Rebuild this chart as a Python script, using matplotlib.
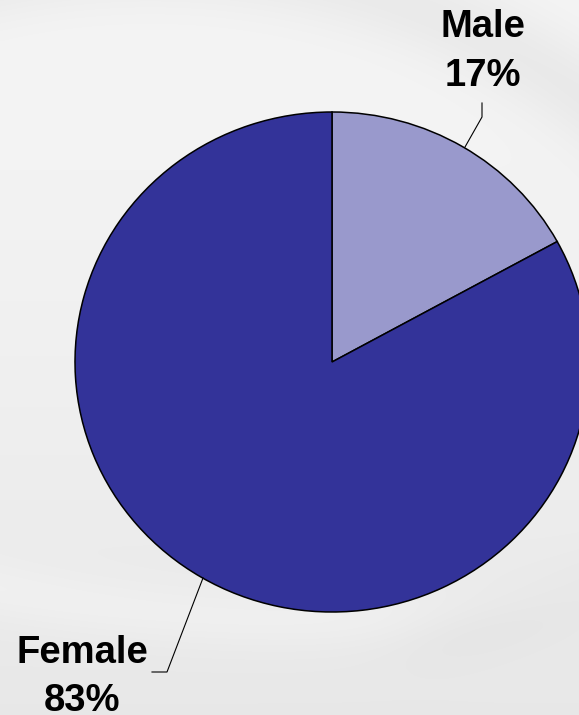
import numpy as np
import matplotlib.pyplot as plt
from matplotlib.patches import Wedge
from matplotlib.transforms import Affine2D

# -------------------------
# Data
# -------------------------
labels = ["Male", "Female"]
shares = [17, 83]
colors = ["#9999CC", "#333399"]

W, H = 579, 715

fig = plt.figure(figsize=(W / 100, H / 100), dpi=100)
ax = fig.add_axes([0, 0, 1, 1])
ax.set_xlim(0, W)
ax.set_ylim(0, H)
ax.axis("off")

# -------------------------
# Background: light grey gradient with soft swooshes
# -------------------------
yy, xx = np.mgrid[0:H, 0:W]
bg = 0.955 - 0.05 * (yy / H) ** 1.5
r1 = np.hypot(xx - 150, yy - 720)
fade_top = 1 / (1 + np.exp((yy - 240) / 25))
bg -= 0.04 * np.exp(-((r1 - 760) / 45) ** 2) * fade_top
r2 = np.hypot(xx - 300, yy + 900)
bg += 0.02 * np.exp(-((r2 - 1520) / 30) ** 2)
r3 = np.hypot(xx - 200, yy + 700)
fade_right = 1 / (1 + np.exp(-(xx - 420) / 30))
bg -= 0.03 * np.exp(-((r3 - 1350) / 35) ** 2) * fade_right
ax.imshow(bg, cmap="gray", vmin=0, vmax=1, extent=[0, W, 0, H],
          origin="upper", zorder=0, aspect="auto")

# -------------------------
# Pie (clockwise from 12 o'clock), slightly wider than tall
# -------------------------
cx, cy = 332, H - 362
rx, ry = 257, 250
pie_tf = Affine2D().scale(rx, ry).translate(cx, cy) + ax.transData
start = 90.0
for share, col in zip(shares, colors):
    sweep = 360.0 * share / sum(shares)
    ax.add_patch(Wedge((0, 0), 1, start - sweep, start, facecolor=col,
                       edgecolor="black", linewidth=1.1, zorder=2,
                       transform=pie_tf))
    start -= sweep

# -------------------------
# Labels with leader lines
# -------------------------
font = dict(family=["Liberation Sans", "DejaVu Sans"], fontsize=27.5,
            fontweight="bold", color="black", ha="center", va="baseline",
            zorder=3)
ax.text(483, H - 37, labels[0], **font)
ax.text(483, H - 86, f"{shares[0]}%", **font)
ax.plot([482, 482, 465], [H - 103, H - 117, H - 147], color="black",
        linewidth=0.8, zorder=3)

ax.text(82, H - 663, labels[1], **font)
ax.text(82, H - 711, f"{shares[1]}%", **font)
ax.plot([152, 167, 203], [H - 672, H - 672, H - 578], color="black",
        linewidth=0.8, zorder=3)

fig.savefig("out.png", dpi=100)
